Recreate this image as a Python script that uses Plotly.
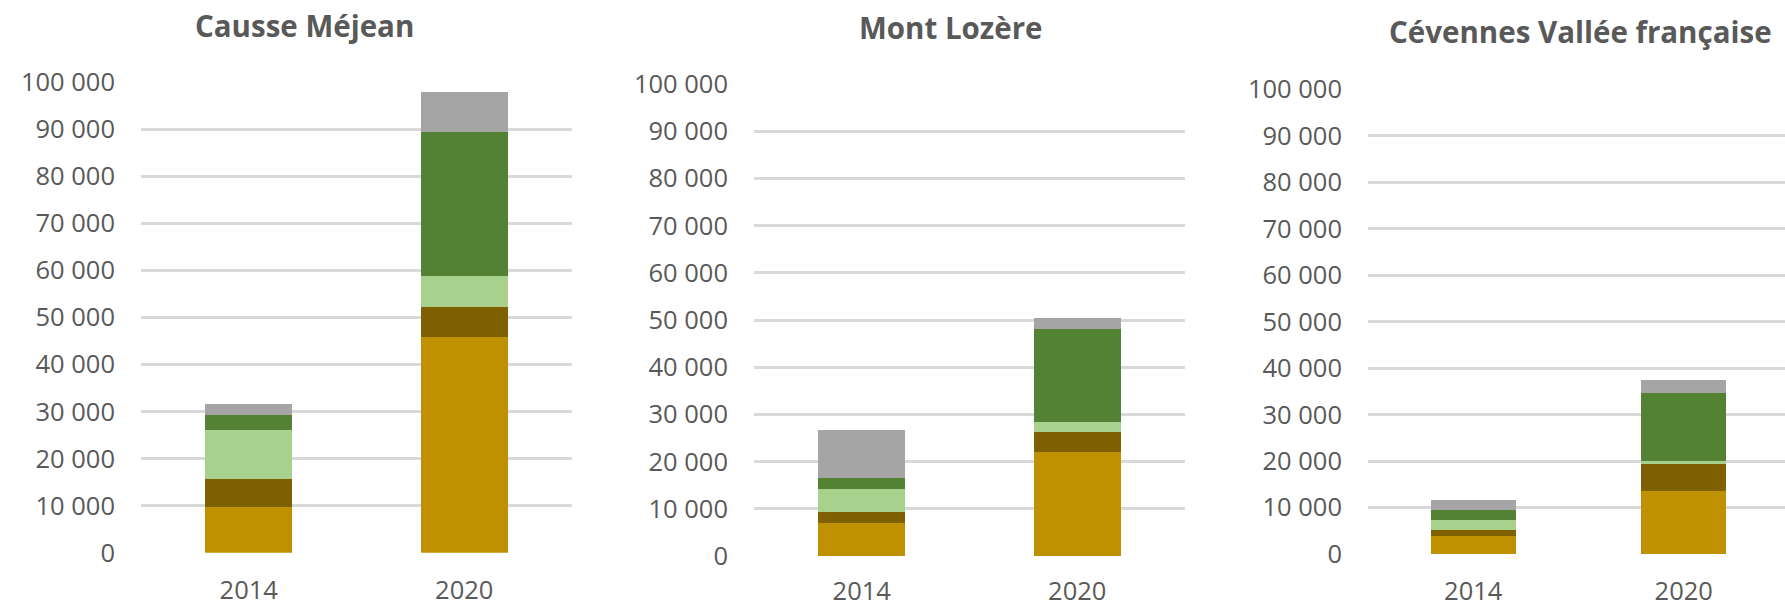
import plotly.graph_objects as go

years = ["2014", "2020"]
panels = ["Causse Méjean", "Mont Lozère", "Cévennes Vallée française"]
series_names = ["Série 1", "Série 2", "Série 3", "Série 4", "Série 5"]
colors = ["#BF9000", "#7F6000", "#A9D18E", "#548235", "#A5A5A5"]

# values per panel: [series][year]
causse_mejean = [
    [9700, 45850],
    [5900, 6400],
    [10400, 6570],
    [3250, 30570],
    [2350, 8500],
]
mont_lozere = [
    [6950, 22080],
    [2290, 4090],
    [5060, 2280],
    [2300, 19710],
    [10140, 2290],
]
cevennes = [
    [3900, 13540],
    [1170, 5730],
    [2160, 660],
    [2320, 14790],
    [2160, 2820],
]
panel_data = [causse_mejean, mont_lozere, cevennes]

tick_vals = [0, 10000, 20000, 30000, 40000, 50000, 60000, 70000, 80000, 90000, 100000]
tick_text = ["0", "10 000", "20 000", "30 000", "40 000", "50 000",
             "60 000", "70 000", "80 000", "90 000", "100 000"]

W, H = 1785, 606
# pixel geometry of plot areas (left, right, top, bottom)
geo = [
    (141, 572, 82.3, 552.7),
    (754, 1185, 84.0, 556.0),
    (1368, 1785, 89.3, 554.0),
]
xranges = [[-0.5, 1.5], [-0.5, 1.5], [-0.5, -0.5 + 417 / 210.5]]
x_standoff = [20, 17, 19]
title_pos = [(304, 25), (951, 27), (1580, 32)]

fig = go.Figure()
font_family = "Open Sans"
grey_text = "#595959"

for p, data in enumerate(panel_data):
    ax = "" if p == 0 else str(p + 1)
    for s, vals in enumerate(data):
        fig.add_trace(go.Bar(
            x=years, y=vals, name=series_names[s],
            marker=dict(color=colors[s], line=dict(width=0)),
            width=0.405, xaxis="x" + ax, yaxis="y" + ax,
            showlegend=False,
        ))
    l, r, t, b = geo[p]
    fig.update_layout(**{
        "xaxis" + ax: dict(
            domain=[l / W, r / W], type="category", range=xranges[p],
            showgrid=False, showline=False, zeroline=False, ticks="",
            tickfont=dict(family=font_family, size=25.5, color=grey_text),
            ticklabelstandoff=x_standoff[p], anchor="y" + ax, automargin=False,
        ),
        "yaxis" + ax: dict(
            domain=[1 - b / H, 1 - t / H], range=[0, 100000],
            tickvals=tick_vals, ticktext=tick_text,
            showgrid=True, gridcolor="#D9D9D9", gridwidth=2.5,
            zeroline=False, showline=False, ticks="",
            tickfont=dict(family=font_family, size=25.5, color=grey_text),
            ticklabelstandoff=25, anchor="x" + ax, automargin=False,
        ),
    })
    tx, ty = title_pos[p]
    fig.add_annotation(
        text="<b>" + panels[p] + "</b>", x=tx / W, y=1 - ty / H,
        xref="paper", yref="paper", xanchor="center", yanchor="middle",
        showarrow=False,
        font=dict(family=font_family, size=29.5, color=grey_text),
    )

fig.update_layout(
    width=W, height=H, barmode="stack",
    margin=dict(l=0, r=0, t=0, b=0),
    paper_bgcolor="white", plot_bgcolor="white",
)
fig.write_html("out.html")
